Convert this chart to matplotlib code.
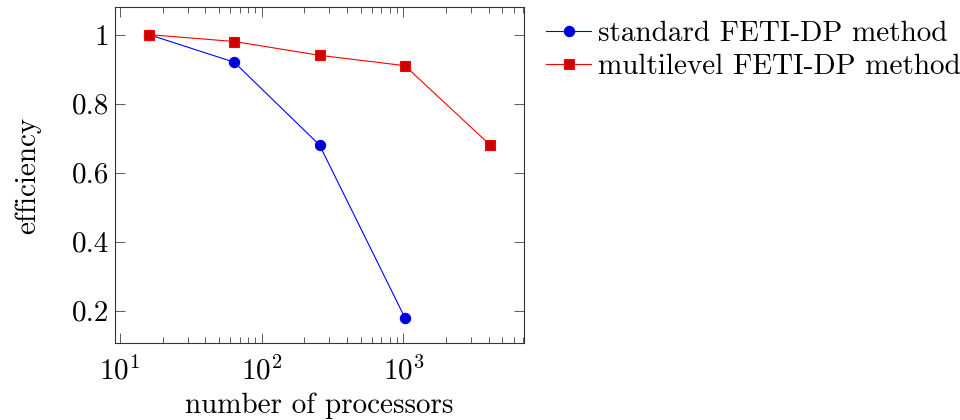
import matplotlib
matplotlib.use("Agg")
import matplotlib.pyplot as plt
from matplotlib.ticker import LogLocator, FixedLocator, FixedFormatter

plt.rcParams['font.family'] = ['cmr10', 'DejaVu Serif']
plt.rcParams['mathtext.fontset'] = 'cm'
plt.rcParams['axes.formatter.use_mathtext'] = True

processors_std = [16, 64, 256, 1024]
eff_std = [1.0, 0.92, 0.68, 0.18]
processors_ml = [16, 64, 256, 1024, 4096]
eff_ml = [1.0, 0.98, 0.94, 0.91, 0.68]
yticks = [0.2, 0.4, 0.6, 0.8, 1.0]
ytick_labels = ["0.2", "0.4", "0.6", "0.8", "1"]
labels = ["standard FETI-DP method", "multilevel FETI-DP method"]

fig = plt.figure(figsize=(9.6, 4.2), dpi=100)
ax = fig.add_axes([115/960, 1-343.3/420, (524-115)/960, (343.3-7)/420])

ax.plot(processors_std, eff_std, color='blue', lw=0.8, marker='o', markersize=7.4,
        markerfacecolor=(0, 0, 0.8), markeredgecolor='blue', markeredgewidth=0.8, label=labels[0])
ax.plot(processors_ml, eff_ml, color='red', lw=0.8, marker='s', markersize=7.8,
        markerfacecolor=(0.8, 0, 0), markeredgecolor='red', markeredgewidth=0.8, label=labels[1])

ax.set_xscale('log')
ax.set_xlim(9.22, 7100)
ax.set_ylim(0.1055, 1.08)
ax.xaxis.set_major_locator(LogLocator(base=10, numticks=10))
ax.xaxis.set_minor_locator(LogLocator(base=10, subs=range(2, 10), numticks=20))
ax.yaxis.set_major_locator(FixedLocator(yticks))
ax.yaxis.set_major_formatter(FixedFormatter(ytick_labels))

fs = 21
ax.tick_params(axis='both', which='major', direction='in', length=7, width=0.6,
               top=True, right=True, labelsize=fs, color='#444444')
ax.tick_params(axis='x', which='major', pad=9)
ax.tick_params(axis='y', which='major', pad=4)
ax.tick_params(axis='both', which='minor', direction='in', length=4, width=0.6,
               top=True, right=True, color='#444444')
ax.tick_params(axis='y', which='minor', left=False, right=False)
for s in ax.spines.values():
    s.set_linewidth(0.8)
    s.set_color('#333333')

ax.set_xlabel("number of processors", fontsize=fs, labelpad=5)
ax.set_ylabel("efficiency", fontsize=fs, labelpad=22)

fig.legend(loc='upper left', bbox_to_anchor=(546/960, 1-21/420), frameon=False,
           fontsize=fs, handlelength=1.55, handletextpad=0.22, labelspacing=0.22,
           numpoints=1, borderaxespad=0, borderpad=0)

fig.savefig("out.png", dpi=100)
